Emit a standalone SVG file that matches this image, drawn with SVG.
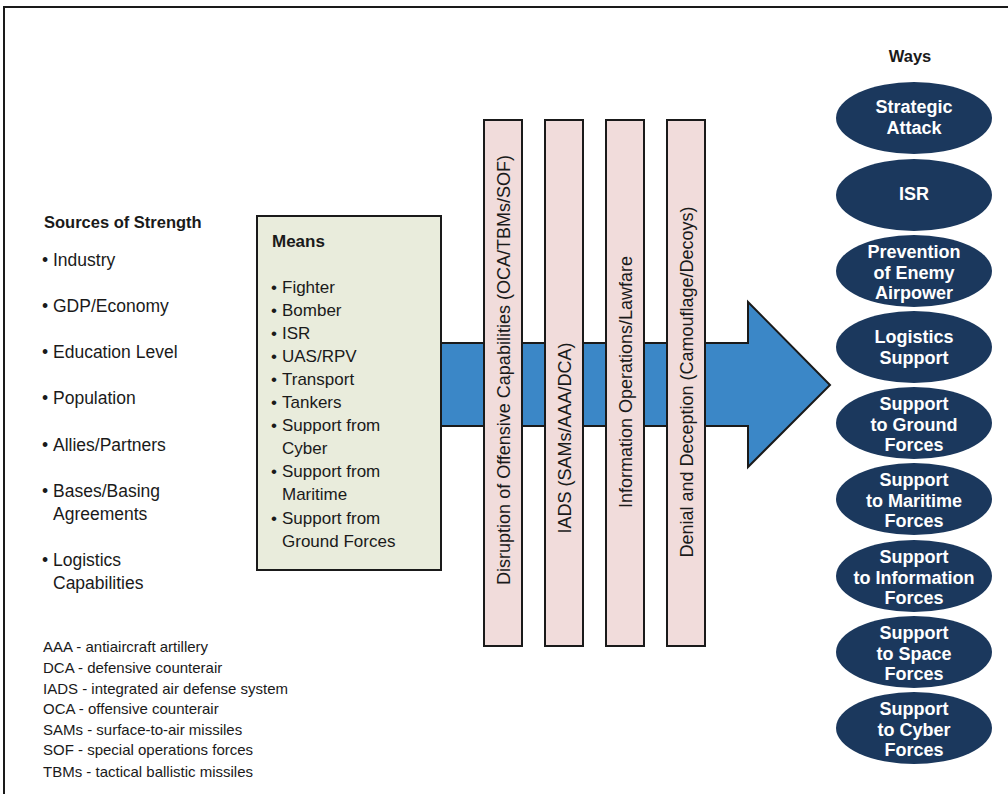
<svg xmlns="http://www.w3.org/2000/svg" width="1008" height="794" viewBox="0 0 1008 794">
<style>
.t{font-family:"Liberation Sans",Arial,sans-serif;fill:#1a1a1a}
.r{font-size:17.5px}
.m{font-size:17px}
.b{font-weight:bold}
.lg{font-size:15px}
.vt{font-family:"Liberation Sans",Arial,sans-serif;font-size:18px;fill:#1a1a1a;text-anchor:middle}
.ell{fill:#1b385d}
.et{font-family:"Liberation Sans",Arial,sans-serif;font-size:18px;font-weight:bold;fill:#ffffff;text-anchor:middle}
.bar{fill:#f1dcdb;stroke:#1a1a1a;stroke-width:2}
</style>
<rect x="0" y="0" width="1008" height="794" fill="#ffffff"/>
<path d="M4,794 V7 H1008" fill="none" stroke="#1a1a1a" stroke-width="2"/>

<g id="sources">
<text class="t b" x="44" y="228" style="font-size:16.5px">Sources of Strength</text>
<g class="t r">
<text x="42" y="266">•</text><text x="53" y="266">Industry</text>
<text x="42" y="312">•</text><text x="53" y="312">GDP/Economy</text>
<text x="42" y="358">•</text><text x="53" y="358">Education Level</text>
<text x="42" y="404">•</text><text x="53" y="404">Population</text>
<text x="42" y="451">•</text><text x="53" y="451">Allies/Partners</text>
<text x="42" y="497">•</text><text x="53" y="497">Bases/Basing</text>
<text x="53" y="520">Agreements</text>
<text x="42" y="566">•</text><text x="53" y="566">Logistics</text>
<text x="53" y="589">Capabilities</text>
</g>
</g>

<g id="legend" class="t lg">
<text x="43" y="652">AAA - antiaircraft artillery</text>
<text x="43" y="673">DCA - defensive counterair</text>
<text x="43" y="694">IADS - integrated air defense system</text>
<text x="43" y="714">OCA - offensive counterair</text>
<text x="43" y="735">SAMs - surface-to-air missiles</text>
<text x="43" y="755">SOF - special operations forces</text>
<text x="43" y="777">TBMs - tactical ballistic missiles</text>
</g>

<g id="connectors">
<polygon id="arrow" points="441,343 748,343 748,302 830,385 748,467 748,426 441,426" fill="#3b87c7" stroke="#1a1a1a" stroke-width="2" stroke-linejoin="miter"/>
</g>

<g id="means">
<rect x="257" y="216" width="184" height="354" fill="#e9ecdc" stroke="#1a1a1a" stroke-width="2"/>
<text class="t b" x="272" y="247" style="font-size:17px">Means</text>
<g class="t m">
<text x="271" y="293">•</text><text x="282" y="293">Fighter</text>
<text x="271" y="316">•</text><text x="282" y="316">Bomber</text>
<text x="271" y="339">•</text><text x="282" y="339">ISR</text>
<text x="271" y="362">•</text><text x="282" y="362">UAS/RPV</text>
<text x="271" y="385">•</text><text x="282" y="385">Transport</text>
<text x="271" y="408">•</text><text x="282" y="408">Tankers</text>
<text x="271" y="431">•</text><text x="282" y="431">Support from</text>
<text x="282" y="454">Cyber</text>
<text x="271" y="477">•</text><text x="282" y="477">Support from</text>
<text x="282" y="500">Maritime</text>
<text x="271" y="524">•</text><text x="282" y="524">Support from</text>
<text x="282" y="547">Ground Forces</text>
</g>
</g>

<g id="bar1">
<rect class="bar" x="484" y="120" width="38" height="526"/>
<text class="vt" transform="translate(510,370) rotate(-90)">Disruption of Offensive Capabilities (OCA/TBMs/SOF)</text>
</g>
<g id="bar2">
<rect class="bar" x="545" y="120" width="38" height="526"/>
<text class="vt" transform="translate(571,438) rotate(-90)">IADS (SAMs/AAA/DCA)</text>
</g>
<g id="bar3">
<rect class="bar" x="606" y="120" width="38" height="526"/>
<text class="vt" transform="translate(632,382) rotate(-90)">Information Operations/Lawfare</text>
</g>
<g id="bar4">
<rect class="bar" x="667" y="120" width="38" height="526"/>
<text class="vt" transform="translate(693,382) rotate(-90)">Denial and Deception (Camouflage/Decoys)</text>
</g>

<text id="ways-title" class="t b" x="910" y="62" text-anchor="middle" style="font-size:16.5px">Ways</text>

<g id="way1"><ellipse class="ell" cx="914" cy="118" rx="78" ry="36"/>
<text class="et" x="914" y="113">Strategic</text><text class="et" x="914" y="133.5">Attack</text></g>
<g id="way2"><ellipse class="ell" cx="914" cy="195" rx="78" ry="36"/>
<text class="et" x="914" y="200">ISR</text></g>
<g id="way3"><ellipse class="ell" cx="914" cy="271" rx="78" ry="36"/>
<text class="et" x="914" y="258">Prevention</text><text class="et" x="914" y="278.5">of Enemy</text><text class="et" x="914" y="299">Airpower</text></g>
<g id="way4"><ellipse class="ell" cx="914" cy="347" rx="78" ry="36"/>
<text class="et" x="914" y="343">Logistics</text><text class="et" x="914" y="363.5">Support</text></g>
<g id="way5"><ellipse class="ell" cx="914" cy="423" rx="78" ry="36"/>
<text class="et" x="914" y="410">Support</text><text class="et" x="914" y="430.5">to Ground</text><text class="et" x="914" y="451">Forces</text></g>
<g id="way6"><ellipse class="ell" cx="914" cy="499" rx="78" ry="36"/>
<text class="et" x="914" y="486">Support</text><text class="et" x="914" y="506.5">to Maritime</text><text class="et" x="914" y="527">Forces</text></g>
<g id="way7"><ellipse class="ell" cx="914" cy="576" rx="78" ry="36"/>
<text class="et" x="914" y="563">Support</text><text class="et" x="914" y="583.5">to Information</text><text class="et" x="914" y="604">Forces</text></g>
<g id="way8"><ellipse class="ell" cx="914" cy="652" rx="78" ry="36"/>
<text class="et" x="914" y="639">Support</text><text class="et" x="914" y="659.5">to Space</text><text class="et" x="914" y="680">Forces</text></g>
<g id="way9"><ellipse class="ell" cx="914" cy="728" rx="78" ry="36"/>
<text class="et" x="914" y="715">Support</text><text class="et" x="914" y="735.5">to Cyber</text><text class="et" x="914" y="756">Forces</text></g>
</svg>
